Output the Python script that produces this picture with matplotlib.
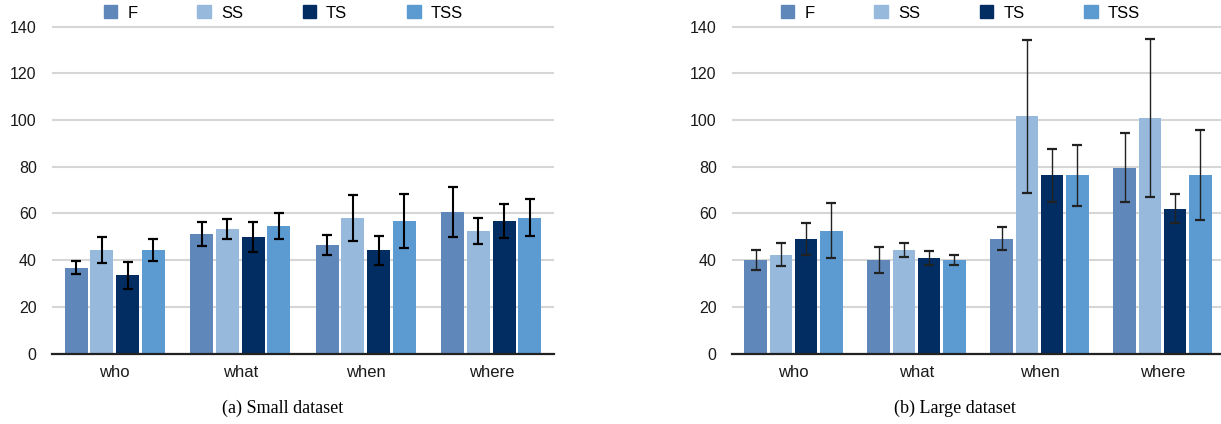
import numpy as np
import matplotlib
matplotlib.use("Agg")
import matplotlib.pyplot as plt
from matplotlib.patches import Patch

# Query types and methods
categories = ["who", "what", "when", "where"]
methods = ["F", "SS", "TS", "TSS"]
colors = ["#5f87b9", "#96b9dc", "#022d63", "#5b9bd2"]

# Small dataset: mean values and error (one row per method)
small_mean = [
    [36.8, 51.1, 46.4, 60.6],   # F
    [44.3, 53.3, 58.1, 52.4],   # SS
    [33.4, 49.8, 44.2, 56.8],   # TS
    [44.3, 54.6, 56.8, 58.1],   # TSS
]
small_err = [
    [2.9, 5.0, 4.4, 10.8],
    [5.7, 4.4, 9.8, 5.7],
    [5.7, 6.4, 6.3, 7.2],
    [4.6, 5.7, 11.5, 7.9],
]

# Large dataset
large_mean = [
    [40.1, 40.1, 49.1, 79.6],
    [42.3, 44.4, 101.6, 100.7],
    [49.1, 41.0, 76.3, 62.0],
    [52.6, 40.1, 76.3, 76.3],
]
large_err = [
    [4.3, 5.5, 5.0, 14.8],
    [5.0, 2.9, 32.7, 33.8],
    [6.9, 3.0, 11.3, 6.1],
    [11.8, 2.0, 13.1, 19.3],
]

plt.rcParams["font.family"] = ["Liberation Sans", "DejaVu Sans"]

W, H = 1221, 424
fig = plt.figure(figsize=(W / 100, H / 100), dpi=100)

# axes boxes in pixels: left, bottom(of y=0), width
y0_px = 353.5
px_per_unit = 327 / 140
ytop = 141
ax_h = ytop * px_per_unit

boxes = [(52, 502), (732, 492)]
captions = ["(a) Small dataset", "(b) Large dataset"]
caption_x = [283, 955]
legend_x = [104, 781]

step = 0.205
width = 0.185
x = np.arange(len(categories))


def draw(ax, means, errs, elw, ecol):
    for i, m in enumerate(methods):
        ax.bar(x + (i - 1.5) * step, means[i], width, color=colors[i], zorder=2)
        ax.errorbar(x + (i - 1.5) * step, means[i], yerr=errs[i], fmt="none",
                    ecolor=ecol, elinewidth=elw, capsize=3.6, capthick=1.6, zorder=3)
    ax.set_xlim(-0.5, 3.5)
    ax.set_ylim(0, ytop)
    ax.set_yticks(range(0, 141, 20))
    ax.set_xticks(x)
    ax.set_xticklabels(categories, fontsize=12)
    ax.tick_params(axis="both", length=0, labelsize=11.5, colors="#1a1a1a")
    ax.tick_params(axis="x", labelsize=12, pad=8)
    ax.tick_params(axis="y", pad=11)
    ax.yaxis.grid(True, color="#d6d6d6", linewidth=1.5, zorder=0)
    ax.set_axisbelow(True)
    for s in ["left", "right", "top"]:
        ax.spines[s].set_visible(False)
    ax.spines["bottom"].set_linewidth(1.6)
    ax.spines["bottom"].set_color("#222222")
    ax.spines["bottom"].set_zorder(4)


data = [(small_mean, small_err, 1.5, "black"), (large_mean, large_err, 1.0, "#222222")]
for k, (left, w) in enumerate(boxes):
    ax = fig.add_axes([left / W, (H - y0_px) / H, w / W, ax_h / H])
    draw(ax, *data[k])
    fig.text(caption_x[k] / W, 1 - 408 / H, captions[k], ha="center", va="center",
             fontsize=13, family="Liberation Serif")
    handles = [Patch(color=c) for c in colors]
    fig.legend(handles, methods, loc="center left",
               bbox_to_anchor=(legend_x[k] / W, 1 - 13 / H), ncol=4, frameon=False,
               fontsize=12, handlelength=0.8, handleheight=0.8, handletextpad=0.6,
               columnspacing=3.6, borderpad=0, borderaxespad=0)

fig.savefig("out.png", dpi=100)
